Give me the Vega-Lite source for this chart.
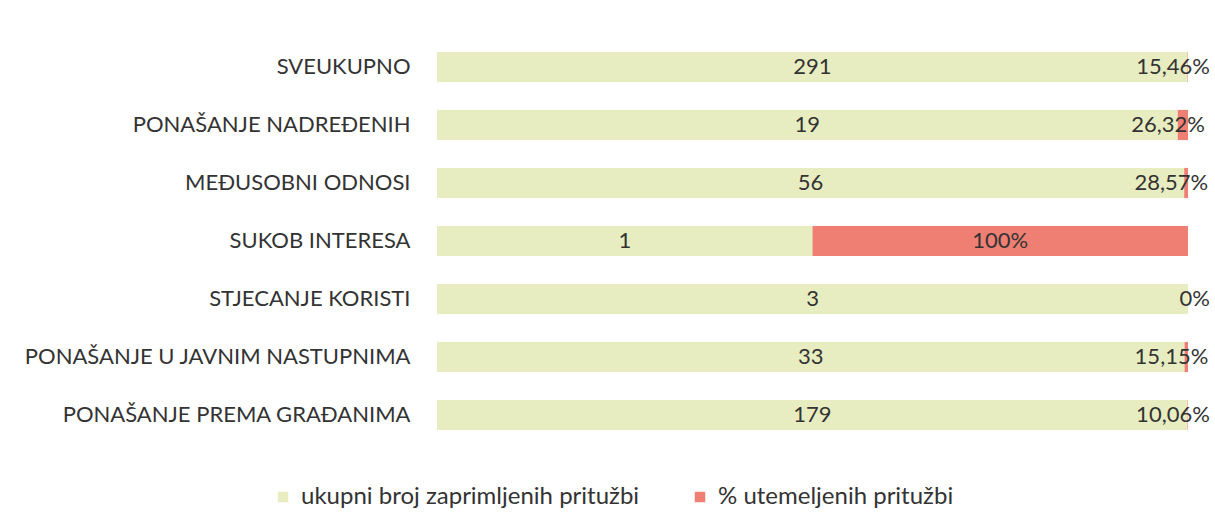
{
  "$schema": "https://vega.github.io/schema/vega-lite/v6.json",
  "autosize": "none",
  "width": 751,
  "height": 406,
  "padding": {"left": 437, "top": 38, "right": 27, "bottom": 87},
  "background": "#ffffff",
  "config": {"view": {"stroke": null}, "font": "Lato"},
  "data": {"values": [
    {"kategorija": "SVEUKUPNO", "serija": "ukupni broj zaprimljenih pritužbi", "vrijednost": 291, "oznaka": "291"},
    {"kategorija": "SVEUKUPNO", "serija": "% utemeljenih pritužbi", "vrijednost": 0.1546, "oznaka": "15,46%"},
    {"kategorija": "PONAŠANJE NADREĐENIH", "serija": "ukupni broj zaprimljenih pritužbi", "vrijednost": 19, "oznaka": "19"},
    {"kategorija": "PONAŠANJE NADREĐENIH", "serija": "% utemeljenih pritužbi", "vrijednost": 0.2632, "oznaka": "26,32%"},
    {"kategorija": "MEĐUSOBNI ODNOSI", "serija": "ukupni broj zaprimljenih pritužbi", "vrijednost": 56, "oznaka": "56"},
    {"kategorija": "MEĐUSOBNI ODNOSI", "serija": "% utemeljenih pritužbi", "vrijednost": 0.2857, "oznaka": "28,57%"},
    {"kategorija": "SUKOB INTERESA", "serija": "ukupni broj zaprimljenih pritužbi", "vrijednost": 1, "oznaka": "1"},
    {"kategorija": "SUKOB INTERESA", "serija": "% utemeljenih pritužbi", "vrijednost": 1, "oznaka": "100%"},
    {"kategorija": "STJECANJE KORISTI", "serija": "ukupni broj zaprimljenih pritužbi", "vrijednost": 3, "oznaka": "3"},
    {"kategorija": "STJECANJE KORISTI", "serija": "% utemeljenih pritužbi", "vrijednost": 0, "oznaka": "0%"},
    {"kategorija": "PONAŠANJE U JAVNIM NASTUPNIMA", "serija": "ukupni broj zaprimljenih pritužbi", "vrijednost": 33, "oznaka": "33"},
    {"kategorija": "PONAŠANJE U JAVNIM NASTUPNIMA", "serija": "% utemeljenih pritužbi", "vrijednost": 0.1515, "oznaka": "15,15%"},
    {"kategorija": "PONAŠANJE PREMA GRAĐANIMA", "serija": "ukupni broj zaprimljenih pritužbi", "vrijednost": 179, "oznaka": "179"},
    {"kategorija": "PONAŠANJE PREMA GRAĐANIMA", "serija": "% utemeljenih pritužbi", "vrijednost": 0.1006, "oznaka": "10,06%"}
  ]},
  "encoding": {
    "y": {
      "field": "kategorija", "type": "nominal", "sort": null,
      "scale": {"paddingInner": 0.48, "paddingOuter": 0.24},
      "axis": {"title": null, "ticks": false, "domain": false, "labelFontSize": 22, "labelColor": "#333333", "labelPadding": 27, "labelFont": "Lato", "labelLimit": 0}
    }
  },
  "layer": [
    {
      "mark": {"type": "bar"},
      "encoding": {
        "x": {"field": "vrijednost", "type": "quantitative", "stack": "normalize", "axis": null, "scale": {"domain": [0, 1], "nice": false}},
        "color": {
          "field": "serija", "type": "nominal",
          "scale": {"domain": ["ukupni broj zaprimljenih pritužbi", "% utemeljenih pritužbi"], "range": ["#e7edc0", "#ef7f72"]},
          "legend": {"title": null, "orient": "none", "direction": "horizontal", "legendX": -166, "legendY": 447, "symbolType": "square", "symbolSize": 110, "symbolStrokeWidth": 0, "labelFontSize": 24, "labelColor": "#333333", "columnPadding": 48, "labelOffset": 6, "labelFont": "Lato", "labelLimit": 0}
        },
        "order": {"field": "serija", "sort": "descending"}
      }
    },
    {
      "mark": {"type": "text", "fontSize": 22, "color": "#333333", "align": "center", "baseline": "middle"},
      "encoding": {
        "x": {"field": "vrijednost", "type": "quantitative", "stack": "normalize", "bandPosition": 0.5},
        "detail": {"field": "serija"},
        "order": {"field": "serija", "sort": "descending"},
        "text": {"condition": {"test": "datum.serija === '% utemeljenih pritužbi' && datum.vrijednost < 1", "value": ""}, "field": "oznaka"}
      }
    },
    {
      "mark": {"type": "text", "fontSize": 22, "color": "#333333", "align": "right", "baseline": "middle", "dx": 22},
      "encoding": {
        "x": {"field": "vrijednost", "type": "quantitative", "stack": "normalize", "bandPosition": 0.5},
        "detail": {"field": "serija"},
        "order": {"field": "serija", "sort": "descending"},
        "text": {"condition": {"test": "datum.serija === '% utemeljenih pritužbi' && datum.vrijednost < 1", "field": "oznaka"}, "value": ""}
      }
    }
  ]
}
